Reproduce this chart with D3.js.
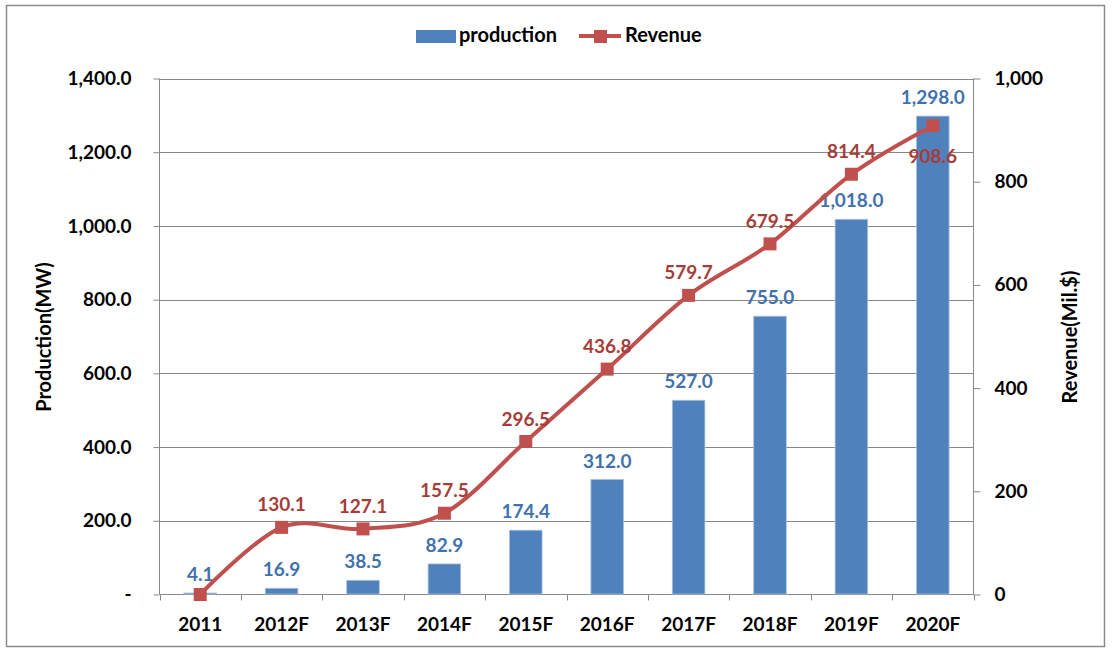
<!DOCTYPE html>
<html>
<head>
<meta charset="utf-8">
<script src="https://cdn.jsdelivr.net/npm/d3@7"></script>
<style>
  html, body { margin: 0; padding: 0; background: #fff; }
  svg { display: block; font-family: Lato, "Open Sans", sans-serif; font-weight: bold; }
</style>
</head>
<body>
<svg id="chart" width="1112" height="653"></svg>
<script>
const categories = ["2011", "2012F", "2013F", "2014F", "2015F", "2016F", "2017F", "2018F", "2019F", "2020F"];
const production = [4.1, 16.9, 38.5, 82.9, 174.4, 312.0, 527.0, 755.0, 1018.0, 1298.0];
const revenue = [0, 130.1, 127.1, 157.5, 296.5, 436.8, 579.7, 679.5, 814.4, 908.6];
const revenueLabelShown = [false, true, true, true, true, true, true, true, true, true];
const leftTicks = [0, 200, 400, 600, 800, 1000, 1200, 1400];
const rightTicks = [0, 200, 400, 600, 800, 1000];

const svg = d3.select("#chart");
const plot = { left: 159.5, right: 973.5, top: 78.5, bottom: 594.5 };
const gridColor = "#888888";
const blue = "#4F81BD", red = "#C0504D";
const blueText = "#4172AE", redText = "#A63D38";
const numSize = "19px", textSize = "20px";

// outer border
svg.append("rect").attr("x", 6.5).attr("y", 5.5).attr("width", 1098).attr("height", 641)
  .attr("fill", "#fff").attr("stroke", "#8c8c8c").attr("stroke-width", 1.5);

const x = d3.scaleBand().domain(categories).range([plot.left, plot.right]).paddingInner(0.6).paddingOuter(0.3);
const xOuter = d3.scaleBand().domain(categories).range([plot.left, plot.right]);
const yL = d3.scaleLinear().domain([0, 1400]).range([plot.bottom, plot.top]);
const yR = d3.scaleLinear().domain([0, 1000]).range([plot.bottom, plot.top]);

// gridlines
svg.append("g").selectAll("line").data(leftTicks.filter(d => d > 0)).join("line")
  .attr("x1", plot.left).attr("x2", plot.right)
  .attr("y1", d => Math.round(yL(d)) + 0.5).attr("y2", d => Math.round(yL(d)) + 0.5)
  .attr("stroke", gridColor).attr("stroke-width", 1);

// left axis
const axL = d3.axisLeft(yL).tickValues(leftTicks).tickSize(6).tickPadding(22)
  .tickFormat(d => d === 0 ? "-" : d3.format(",.1f")(d));
const gL = svg.append("g").attr("transform", `translate(${plot.left},0)`).call(axL);
gL.select(".domain").attr("stroke", gridColor).attr("d", `M0,${plot.top}V${plot.bottom}`);
gL.selectAll(".tick line").attr("stroke", gridColor);
gL.selectAll(".tick text").attr("fill", "#000").style("font-size", numSize).style("font-family", "Lato").style("font-weight", "bold");

// right axis
const axR = d3.axisRight(yR).tickValues(rightTicks).tickSize(7).tickPadding(14).tickFormat(d3.format(","));
const gR = svg.append("g").attr("transform", `translate(${plot.right},0)`).call(axR);
gR.select(".domain").attr("stroke", gridColor).attr("d", `M0,${plot.top}V${plot.bottom}`);
gR.selectAll(".tick line").attr("stroke", gridColor);
gR.selectAll(".tick text").attr("fill", "#000").style("font-size", numSize).style("font-family", "Lato").style("font-weight", "bold");

// bottom axis
const gB = svg.append("g").attr("transform", `translate(0,${plot.bottom})`);
gB.append("line").attr("x1", plot.left).attr("x2", plot.right).attr("y1", 0).attr("y2", 0).attr("stroke", gridColor);
const boundaries = categories.map(c => xOuter(c)).concat([plot.right]);
gB.selectAll("line.tk").data(boundaries).join("line").attr("class", "tk")
  .attr("x1", d => Math.round(d) + 0.5).attr("x2", d => Math.round(d) + 0.5)
  .attr("y1", 0).attr("y2", 6).attr("stroke", gridColor);
gB.selectAll("text").data(categories).join("text")
  .attr("x", d => xOuter(d) + xOuter.bandwidth() / 2).attr("y", 36)
  .attr("text-anchor", "middle").style("font-size", numSize).attr("fill", "#000").text(d => d);

// bars
svg.append("g").selectAll("rect").data(production).join("rect")
  .attr("x", (d, i) => x(categories[i])).attr("width", x.bandwidth())
  .attr("y", d => yL(d)).attr("height", d => plot.bottom - 0.5 - yL(d))
  .attr("fill", blue).attr("stroke", "#a9c0dd").attr("stroke-width", 0.8);

// production labels
svg.append("g").selectAll("text").data(production).join("text")
  .attr("x", (d, i) => xOuter(categories[i]) + xOuter.bandwidth() / 2)
  .attr("y", d => yL(d) - 12)
  .attr("text-anchor", "middle").style("font-size", numSize).attr("fill", blueText)
  .text(d => d3.format(",.1f")(d));

// revenue line
const pts = revenue.map((v, i) => [xOuter(categories[i]) + xOuter.bandwidth() / 2, yR(v)]);
svg.append("path").datum(pts)
  .attr("d", d3.line().curve(d3.curveCardinal.tension(0)))
  .attr("fill", "none").attr("stroke", red).attr("stroke-width", 4).attr("stroke-linejoin", "round");
svg.append("g").selectAll("rect").data(pts).join("rect")
  .attr("x", d => d[0] - 6.5).attr("y", d => d[1] - 6.5).attr("width", 13).attr("height", 13)
  .attr("fill", red);

// revenue labels
svg.append("g").selectAll("text").data(revenue.map((v, i) => ({ v, i })).filter(d => revenueLabelShown[d.i])).join("text")
  .attr("x", d => pts[d.i][0])
  .attr("y", d => d.i === revenue.length - 1 ? pts[d.i][1] + 37 : pts[d.i][1] - 16)
  .attr("text-anchor", "middle").style("font-size", numSize).attr("fill", redText)
  .text(d => d3.format(",.1f")(d.v));

// axis titles
svg.append("text").attr("transform", `translate(51,337) rotate(-90)`).attr("text-anchor", "middle")
  .style("font-size", textSize).attr("fill", "#000").text("Production(MW)");
svg.append("text").attr("transform", `translate(1077,337) rotate(-90)`).attr("text-anchor", "middle")
  .style("font-size", textSize).attr("fill", "#000").text("Revenue(Mil.$)");

// legend
const lg = svg.append("g");
lg.append("rect").attr("x", 416).attr("y", 30).attr("width", 40).attr("height", 13).attr("fill", blue);
lg.append("text").attr("x", 459).attr("y", 42).style("font-size", textSize).attr("fill", "#000").text("production");
lg.append("line").attr("x1", 579).attr("x2", 621).attr("y1", 36).attr("y2", 36).attr("stroke", red).attr("stroke-width", 4);
lg.append("rect").attr("x", 594).attr("y", 30).attr("width", 13).attr("height", 13).attr("fill", red);
lg.append("text").attr("x", 625).attr("y", 42).style("font-size", textSize).attr("fill", "#000").text("Revenue");
</script>
</body>
</html>
